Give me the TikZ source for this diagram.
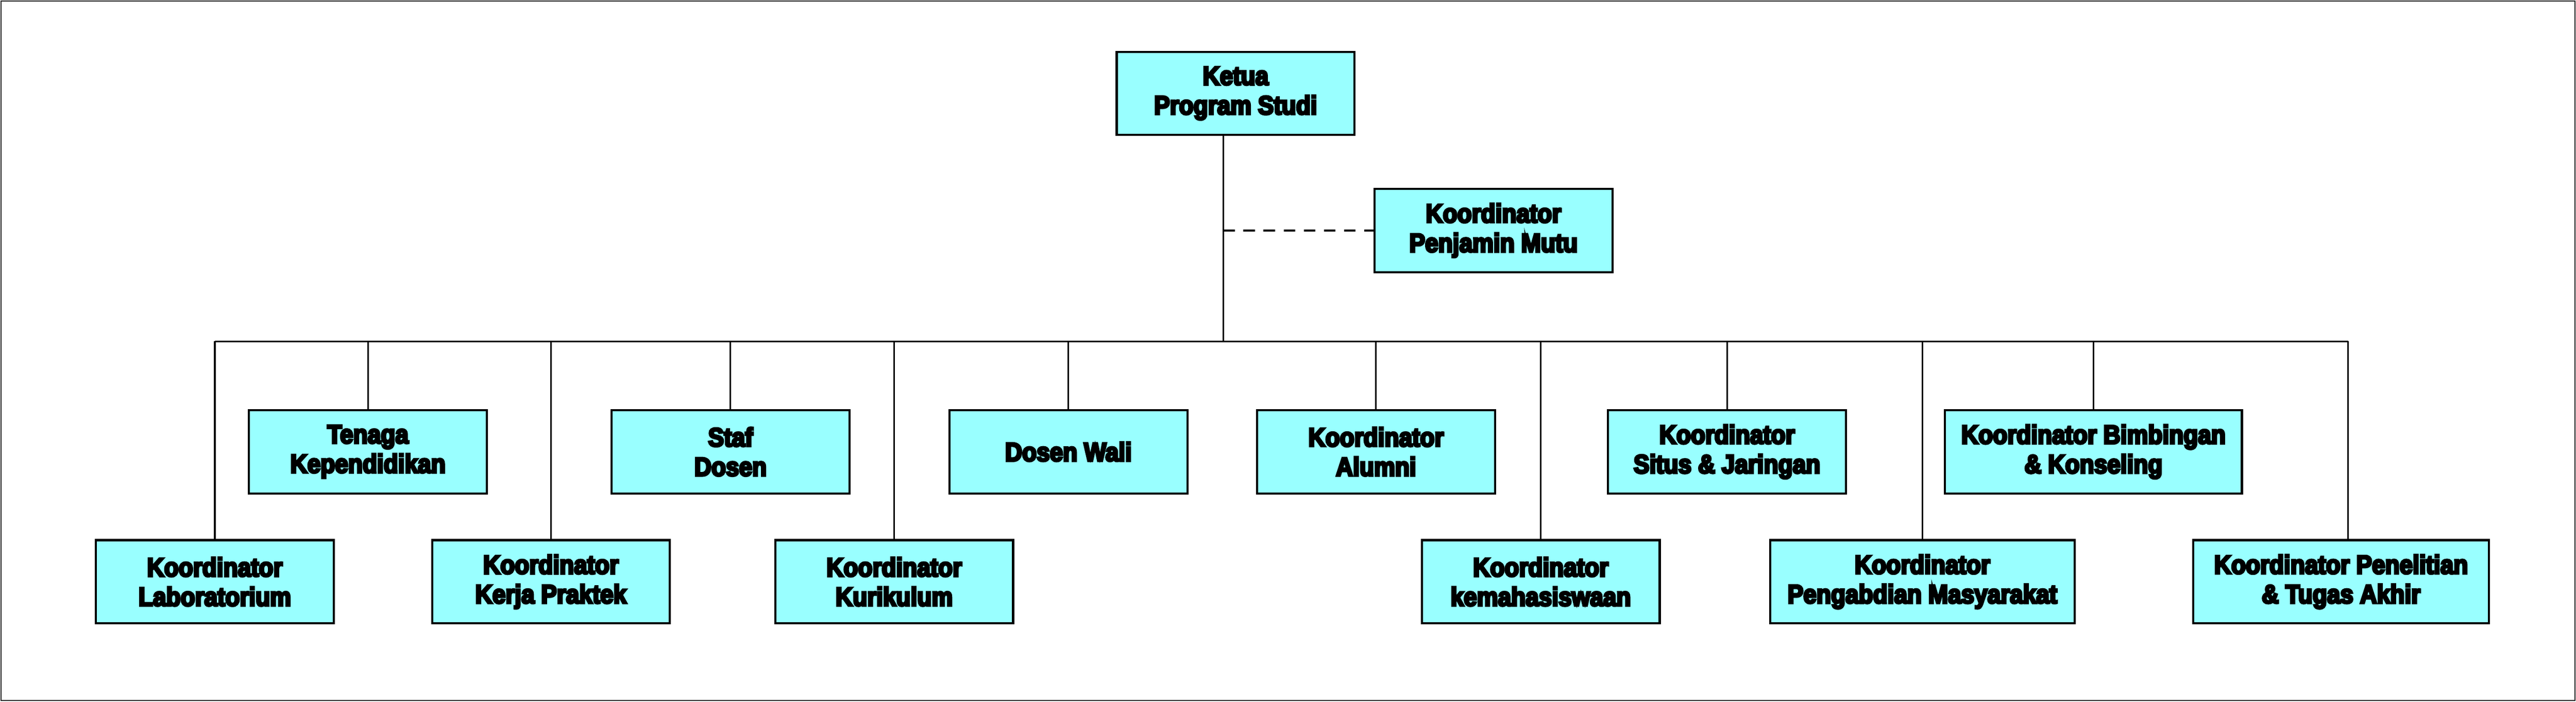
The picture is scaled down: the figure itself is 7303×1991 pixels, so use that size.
\documentclass[tikz,border=0pt]{standalone}
\usepackage{fontspec}
\newfontfamily\boxfont{Liberation Sans}[FakeStretch=0.9, UprightFont=*-Bold, FakeBold=7.5]
\definecolor{boxcyan}{RGB}{153,255,255}
\definecolor{framegray}{RGB}{30,30,30}
\begin{document}
\begin{tikzpicture}[x=0.01cm,y=-0.01cm,
  box/.style={draw=black, line width=1.7pt, fill=boxcyan, inner sep=0pt,
    minimum width=6.74cm, minimum height=2.36cm, align=center,
    font=\boxfont\fontsize{21.2pt}{23.8pt}\selectfont},
  widebox/.style={box, minimum width=#1},
  conn/.style={draw=black, line width=1.3pt},
  dashline/.style={draw=black, line width=1.5pt, dash pattern=on 0.33cm off 0.24cm},
  framestyle/.style={draw=framegray, line width=1pt}]
\useasboundingbox (0,0) rectangle (7303,1991);
\draw[framestyle] (3,3) rectangle (7300,1988);

% top
\node[box] (ketua) at (3503,265) {Ketua\\Program Studi};
\node[box] (mutu) at (4234,654) {Koordinator\\Penjamin Mutu};

% upper row
\node[box] (tenaga) at (1043,1282) {Tenaga\\Kependidikan};
\node[box] (staf) at (2071,1282) {Staf\\Dosen};
\node[box] (wali) at (3029,1282) {Dosen Wali};
\node[box] (alumni) at (3901,1282) {Koordinator\\Alumni};
\node[box] (situs) at (4896,1282) {Koordinator\\Situs \& Jaringan};
\node[widebox=8.41cm] (bk) at (5935,1282) {Koordinator Bimbingan\\\& Konseling};

% lower row
\node[box] (lab) at (609,1651) {Koordinator\\Laboratorium};
\node[box] (kp) at (1562,1651) {Koordinator\\Kerja Praktek};
\node[box] (kur) at (2535,1651) {Koordinator\\Kurikulum};
\node[box] (kema) at (4368,1651) {Koordinator\\kemahasiswaan};
\node[widebox=8.63cm] (pm) at (5450,1651) {Koordinator\\Pengabdian Masyarakat};
\node[widebox=8.38cm] (pen) at (6637,1651) {Koordinator Penelitian\\\& Tugas Akhir};

\coordinate (busY) at (0,969);
\coordinate (trunk) at ([xshift=-0.35cm]ketua.south);
\coordinate (penTop) at ([xshift=0.2cm]pen.north);

% bus and trunk
\draw[conn] (lab.north |- busY) -- (penTop |- busY);
\draw[conn] (trunk) -- (trunk |- busY);
\draw[dashline] (trunk |- mutu.west) -- (mutu.west);

% drops
\foreach \n in {tenaga,staf,wali,alumni,situs,bk,lab,kp,kur,kema,pm}
  \draw[conn] (\n.north) -- (\n.north |- busY);
\draw[conn] (penTop) -- (penTop |- busY);
\end{tikzpicture}
\end{document}
